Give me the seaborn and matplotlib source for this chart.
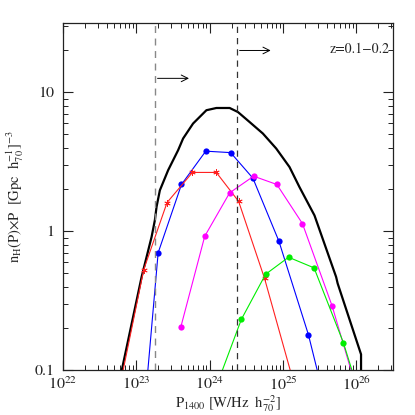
import numpy as np
import pandas as pd
import seaborn as sns
from matplotlib import pyplot as plt
from matplotlib.ticker import FuncFormatter, LogLocator

# radio power [W/Hz h70^-2] and n(P)*P values
total_P = [5.0e22, 1.178e23, 1.377e23, 1.611e23, 1.786e23, 1.884e23, 2.089e23, 2.710e23,
           3.707e23, 4.335e23, 5.93e23, 9.016e23, 1.233e24, 1.871e24, 2.427e24, 3.499e24,
           5.309e24, 8.07e24, 1.225e25, 1.675e25, 2.685e25, 5.297e25, 5.559e25, 1.159e26, 1.159e26]
total_n = [0.056, 0.469, 0.653, 0.910, 1.20, 1.50, 1.97, 2.75,
           3.83, 4.65, 5.96, 7.43, 7.71, 7.71, 7.21, 6.11,
           5.05, 3.94, 2.90, 2.08, 1.30, 0.469, 0.421, 0.130, 0.06]

blue_P = [9.33e22, 1.98e23, 4.12e23, 8.83e23, 1.93e24, 3.88e24, 8.77e24, 2.22e25, 4.79e25]
blue_n = [0.0075, 0.70, 2.17, 3.77, 3.68, 2.41, 0.85, 0.18, 0.035]

red_P = [5.9e22, 1.26e23, 2.62e23, 5.82e23, 1.23e24, 2.48e24, 5.6e24, 1.41e25]
red_n = [0.075, 0.53, 1.61, 2.65, 2.65, 1.64, 0.457, 0.08]

magenta_P = [4.03e23, 8.55e23, 1.87e24, 3.97e24, 8.24e24, 1.84e25, 4.67e25, 1.0e26]
magenta_n = [0.204, 0.92, 1.89, 2.49, 2.17, 1.135, 0.29, 0.074]

green_P = [1.26e24, 2.70e24, 5.78e24, 1.19e25, 2.65e25, 6.65e25, 1.41e26]
green_n = [0.079, 0.232, 0.49, 0.65, 0.545, 0.158, 0.044]

# completeness limits and arrows
limits_P = [1.78e23, 2.34e24]
arrow_end_P = [5.69e23, 7.41e24]
arrow_n = [12.6, 20.0]
label_text = 'z=0.1\u22120.2'

sns.set_style('ticks')
plt.rcParams['font.family'] = ['STIXGeneral', 'DejaVu Serif']
plt.rcParams['mathtext.fontset'] = 'stix'

fig = plt.figure(figsize=(4.15, 4.15), dpi=100)
ax = fig.add_axes([0.152, 0.108, 0.795, 0.837])
ax.set(xscale='log', yscale='log')

sns.lineplot(x=total_P, y=total_n, ax=ax, color='black', lw=1.6, sort=False, estimator=None)
sns.lineplot(x=blue_P, y=blue_n, ax=ax, color='#0000ff', lw=0.8, marker='o', ms=4.5,
             mec='none', sort=False, estimator=None)
sns.lineplot(x=red_P, y=red_n, ax=ax, color='#ff2020', lw=0.8, marker=(6, 2, 0), ms=4.5,
             mec='#ff2020', mew=0.6, sort=False, estimator=None)
sns.lineplot(x=magenta_P, y=magenta_n, ax=ax, color='#ff00ff', lw=0.8, marker='o', ms=4.5,
             mec='none', sort=False, estimator=None)
sns.lineplot(x=green_P, y=green_n, ax=ax, color='#00ee00', lw=0.8, marker='o', ms=4.5,
             mec='none', sort=False, estimator=None)

ax.axvline(limits_P[0], color='#888888', ls=(0, (5, 4)), lw=1.0)
ax.axvline(limits_P[1], color='#333333', ls=(0, (5, 4)), lw=0.9)
for x0, x1, yv in zip(limits_P, arrow_end_P, arrow_n):
    ax.annotate('', xy=(x1, yv), xytext=(x0, yv),
                arrowprops=dict(arrowstyle='->', color='black', lw=0.7, mutation_scale=12))

ax.text(0.99, 0.925, label_text, transform=ax.transAxes, ha='right', va='center', fontsize=10)

ax.set_xlim(1e22, 10 ** 26.5)
ax.set_ylim(0.1, 10 ** 1.5)
ax.xaxis.set_minor_locator(LogLocator(base=10, subs=np.arange(2, 10)))
ax.yaxis.set_minor_locator(LogLocator(base=10, subs=np.arange(2, 10)))
ax.yaxis.set_major_formatter(FuncFormatter(lambda v, p: '%g' % v))
ax.tick_params(which='both', direction='in', top=True, right=True, labelsize=11.5, colors='#222222')
ax.tick_params(which='major', length=7, width=0.8)
ax.tick_params(which='minor', length=3.5, width=0.7)
ax.tick_params(axis='x', which='major', pad=4)
ax.tick_params(axis='y', which='major', pad=6)
for s in ax.spines.values():
    s.set_color('#222222')
    s.set_linewidth(0.9)

ax.set_xlabel(r'$\mathrm{P_{1400}\ [W/Hz\ \ h_{70}^{-2}]}$', fontsize=10.5, labelpad=0)
ax.set_ylabel(r'$\mathrm{n_{H}(P){\times}P\ \ [Gpc\ \ h_{70}^{-1}]^{-3}}$', fontsize=10.5, labelpad=6)

fig.savefig('out.png', dpi=100)
